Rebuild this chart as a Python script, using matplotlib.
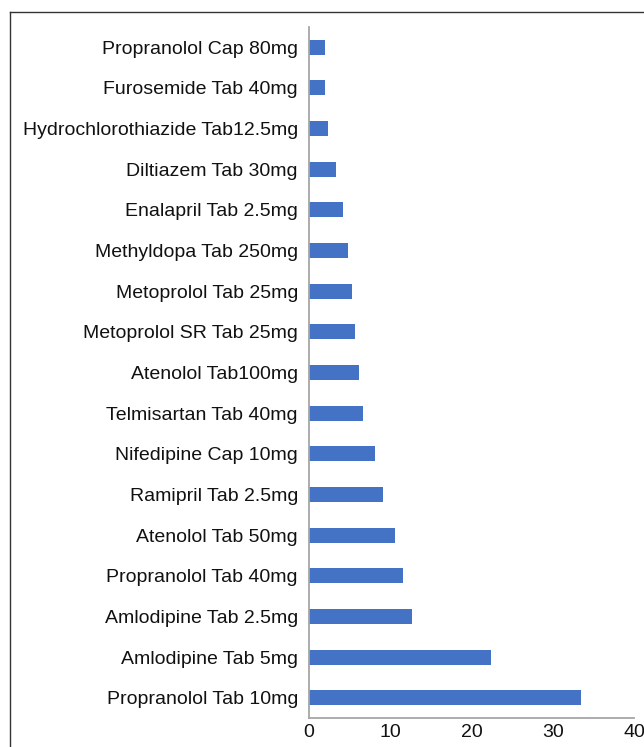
import matplotlib
matplotlib.use("Agg")
import matplotlib.pyplot as plt
from matplotlib.lines import Line2D

drugs = [
    "Propranolol Tab 10mg", "Amlodipine Tab 5mg", "Amlodipine Tab 2.5mg",
    "Propranolol Tab 40mg", "Atenolol Tab 50mg", "Ramipril Tab 2.5mg",
    "Nifedipine Cap 10mg", "Telmisartan Tab 40mg", "Atenolol Tab100mg",
    "Metoprolol SR Tab 25mg", "Metoprolol Tab 25mg", "Methyldopa Tab 250mg",
    "Enalapril Tab 2.5mg", "Diltiazem Tab 30mg", "Hydrochlorothiazide Tab12.5mg",
    "Furosemide Tab 40mg", "Propranolol Cap 80mg",
]
values = [33.5, 22.35, 12.7, 11.6, 10.6, 9.1, 8.1, 6.65, 6.15,
          5.66, 5.3, 4.8, 4.2, 3.3, 2.35, 2.0, 2.0]
xticks = [0, 10, 20, 30, 40]

plt.rcParams["font.family"] = ["Liberation Sans", "DejaVu Sans"]

W, H = 644, 747
fig = plt.figure(figsize=(W / 100, H / 100), dpi=100)
ax = fig.add_axes([309 / W, 1 - 718 / H, (634 - 309) / W, (718 - 27) / H])

ax.barh(range(len(drugs)), values, height=0.37, color="#4472C4")
ax.set_yticks(range(len(drugs)))
ax.set_yticklabels(drugs, fontsize=14, color="#111111")
ax.set_xticks(xticks)
ax.set_xticklabels([str(t) for t in xticks], fontsize=14, color="#111111")
ax.set_xlim(0, 40)
ax.set_ylim(-0.5, len(drugs) - 0.5)
ax.tick_params(axis="both", length=0)
ax.tick_params(axis="y", pad=8)
ax.tick_params(axis="x", pad=4)

for side in ("top", "right"):
    ax.spines[side].set_visible(False)
for side in ("left", "bottom"):
    ax.spines[side].set_color("#a6a6a6")
    ax.spines[side].set_linewidth(1.3)

# outer frame (cut off at the right and bottom)
fig.add_artist(Line2D([10 / W, 10 / W], [0, 1 - 12 / H], transform=fig.transFigure,
                      color="#333333", lw=1.0))
fig.add_artist(Line2D([10 / W, 1], [1 - 12 / H, 1 - 12 / H], transform=fig.transFigure,
                      color="#333333", lw=1.0))

fig.savefig("out.png", dpi=100)
